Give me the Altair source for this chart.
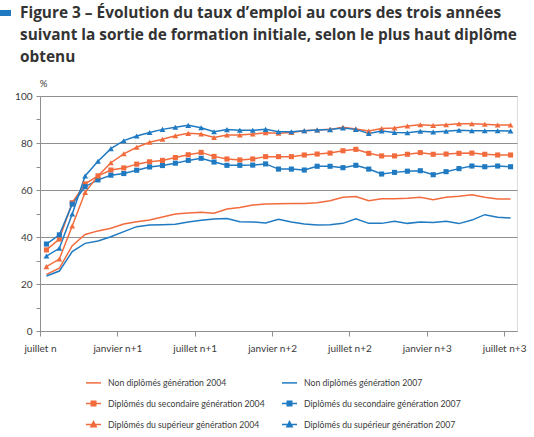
import altair as alt
import pandas as pd
import numpy as np

# ---- data ----
mois_labels = ["juillet n", "janvier n+1", "juillet n+1", "janvier n+2",
               "juillet n+2", "janvier n+3", "juillet n+3"]

series_names = [
    "Non diplômés génération 2004",
    "Non diplômés génération 2007",
    "Diplômés du secondaire génération 2004",
    "Diplômés du secondaire génération 2007",
    "Diplômés du supérieur génération 2004",
    "Diplômés du supérieur génération 2007",
]

nd_2004 = [24.1, 26.7, 36.3, 41.1, 42.6, 43.7, 45.5, 46.5, 47.2, 48.5, 49.8, 50.2, 50.5,
           50.1, 51.9, 52.6, 53.6, 54.0, 54.2, 54.3, 54.3, 54.6, 55.4, 56.9, 57.2, 55.4,
           56.3, 56.3, 56.5, 56.9, 55.9, 56.9, 57.3, 58.0, 56.9, 56.2, 56.2]
nd_2007 = [23.4, 25.5, 33.8, 37.3, 38.3, 40.1, 42.3, 44.4, 45.1, 45.2, 45.4, 46.4, 47.1,
           47.7, 47.9, 46.5, 46.4, 46.0, 47.5, 46.4, 45.5, 45.1, 45.2, 45.8, 47.7, 45.8,
           45.8, 46.7, 45.8, 46.4, 46.2, 46.7, 45.7, 47.2, 49.5, 48.4, 48.1]
sec_2004 = [34.5, 39.1, 54.6, 62.6, 66.0, 68.5, 69.4, 71.0, 72.0, 72.6, 73.8, 75.0, 76.0,
            74.3, 73.2, 72.8, 73.2, 74.2, 74.2, 74.2, 74.9, 75.3, 75.7, 76.7, 77.3, 75.6,
            74.5, 74.5, 75.2, 75.9, 75.2, 75.3, 75.6, 75.7, 75.2, 74.9, 74.9]
sec_2007 = [37.0, 40.9, 54.0, 61.4, 64.3, 66.3, 67.0, 68.4, 69.8, 70.4, 71.4, 72.6, 73.5,
            71.9, 70.5, 70.5, 70.6, 71.1, 68.9, 68.9, 68.5, 70.1, 70.1, 69.5, 70.5, 68.9,
            66.8, 67.5, 68.0, 68.2, 66.5, 67.8, 69.1, 70.2, 69.9, 70.2, 69.9]
sup_2004 = [27.4, 30.6, 44.7, 59.0, 66.0, 71.6, 75.4, 78.2, 80.3, 81.6, 83.1, 84.1, 83.8,
            82.3, 83.4, 83.4, 83.8, 84.4, 84.2, 84.5, 85.2, 85.5, 85.8, 86.7, 86.0, 85.1,
            86.2, 86.4, 87.2, 87.8, 87.5, 87.8, 88.2, 88.2, 88.0, 87.7, 87.7]
sup_2007 = [31.9, 35.2, 49.8, 66.0, 72.2, 77.6, 81.0, 83.0, 84.5, 85.8, 86.7, 87.5, 86.5,
            84.8, 85.7, 85.4, 85.4, 85.8, 84.8, 84.8, 85.2, 85.5, 85.7, 86.4, 85.8, 84.1,
            85.1, 84.5, 84.4, 85.0, 84.7, 85.0, 85.4, 85.2, 85.2, 85.2, 85.1]

all_values = [nd_2004, nd_2007, sec_2004, sec_2007, sup_2004, sup_2007]

ORANGE = "#F26B3D"
BLUE = "#1F7AC2"
colors = [ORANGE, BLUE, ORANGE, BLUE, ORANGE, BLUE]

# legend glyphs: line + marker
legend_shapes = [
    "M-1,0L1,0",
    "M-1,0L1,0",
    "M-1,0L1,0M-0.3,-0.3L0.3,-0.3L0.3,0.3L-0.3,0.3Z",
    "M-1,0L1,0M-0.3,-0.3L0.3,-0.3L0.3,0.3L-0.3,0.3Z",
    "M-1,0L1,0M-0.36,0.3L0,-0.38L0.36,0.3Z",
    "M-1,0L1,0M-0.36,0.3L0,-0.38L0.36,0.3Z",
]

rows = []
for name, vals in zip(series_names, all_values):
    for k, v in enumerate(vals):
        rows.append({"mois": k + 0.5, "taux": v, "serie": name})
df = pd.DataFrame(rows)

FONT = "Lato"
TXT = "#3a3a3a"
GRID = "#8f8f8f"

label_expr = "[" + ",".join("'%s'" % s for s in mois_labels) + "][round(datum.value / 6)]"

x_enc = alt.X(
    "mois:Q",
    scale=alt.Scale(domain=[0, 37], nice=False, zero=False),
    axis=alt.Axis(
        values=[0, 6, 12, 18, 24, 30, 36], labelExpr=label_expr, grid=False,
        title=None, tickSize=5, tickColor=GRID, domainColor=GRID,
        labelFont=FONT, labelFontSize=10, labelColor=TXT, labelPadding=7,
        labelFlush=False, labelOverlap=False,
    ),
)
y_enc = alt.Y(
    "taux:Q",
    scale=alt.Scale(domain=[0, 100], nice=False),
    axis=alt.Axis(
        values=list(range(0, 101, 10)),
        labelExpr="datum.value % 20 == 0 ? datum.label : ''",
        grid=True, gridColor=GRID,
        gridOpacity={"condition": {"test": "datum.value % 20 != 0", "value": 0}, "value": 1},
        tickSize=4, tickColor=GRID, domainColor=GRID,
        labelFont=FONT, labelFontSize=10, labelColor=TXT, labelPadding=4,
        title="%", titleAngle=0, titleAlign="center", titleBaseline="middle",
        titleX=3, titleY=-13, titleFont=FONT, titleFontSize=9.5,
        titleFontWeight="normal", titleColor=TXT,
    ),
)
color_scale = alt.Scale(domain=series_names, range=colors)

leg = alt.Legend(
    title=None, orient="none", legendX=45, legendY=278, columns=2,
    columnPadding=14, rowPadding=7, symbolSize=225, symbolStrokeWidth=1.5,
    symbolOpacity=1, labelFont=FONT, labelFontSize=8.7, labelColor=TXT,
    labelLimit=400, labelOffset=6, direction="horizontal", gridAlign="each",
)
color_enc = alt.Color("serie:N", scale=color_scale, legend=leg)

base = alt.Chart(df)

lines = base.mark_line(strokeWidth=1.5).encode(x=x_enc, y=y_enc, color=color_enc)
squares = base.transform_filter(
    alt.FieldOneOfPredicate(field="serie", oneOf=[series_names[2], series_names[3]])
).mark_point(shape="square", filled=True, size=26, opacity=1).encode(
    x=x_enc, y=y_enc, color=color_enc,
)
triangles = base.transform_filter(
    alt.FieldOneOfPredicate(field="serie", oneOf=[series_names[4], series_names[5]])
).mark_point(shape="triangle-up", filled=True, size=34, opacity=1).encode(
    x=x_enc, y=y_enc, color=color_enc,
)
# draws nothing, only carries the legend glyphs (line + marker)
legend_layer = base.transform_filter("false").mark_point(filled=True).encode(
    x=x_enc, y=y_enc, color=color_enc,
    stroke=alt.Stroke("serie:N", scale=alt.Scale(domain=series_names, range=colors), legend=leg),
    shape=alt.Shape("serie:N", scale=alt.Scale(domain=series_names, range=legend_shapes), legend=leg),
)

# small blue bullet in front of the figure title (decoration)
bullet = alt.Chart(pd.DataFrame({"a": [0]})).mark_rect(color=BLUE).encode(
    x=alt.value(-40), x2=alt.value(-29), y=alt.value(-86), y2=alt.value(-80)
)

chart = alt.layer(bullet, lines, squares, triangles, legend_layer).properties(
    width=477, height=235,
    autosize=alt.AutoSizeParams(type="none"),
    padding={"left": 40, "top": 96, "right": 17, "bottom": 106},
    title=alt.TitleParams(
        text=["Figure 3 – Évolution du taux d’emploi au cours des trois années",
              "suivant la sortie de formation initiale, selon le plus haut diplôme",
              "obtenu"],
        anchor="start", frame="group", dx=-20, dy=55, fontSize=15.4, lineHeight=22,
        font="Open Sans", fontWeight="bold", color="#333333", offset=0,
    ),
).configure_view(stroke=None).configure_title(lineHeight=22).configure(background="white")

chart.save("out.html", embed_options={"renderer": "svg", "actions": False})
